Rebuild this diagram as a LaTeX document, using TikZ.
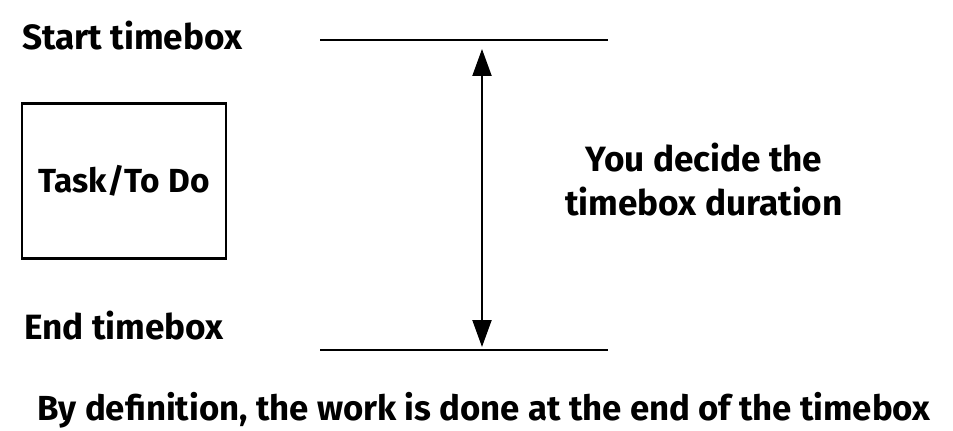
\documentclass[tikz,border=0pt]{standalone}
\usepackage{fontspec}
\setmainfont{Fira Sans}
\usetikzlibrary{arrows.meta,positioning}

\begin{document}
\begin{tikzpicture}[x=0.02cm, y=-0.02cm,
    label/.style={font=\fontsize{20}{25}\selectfont\bfseries, inner sep=0pt, align=center},
    taskbox/.style={draw, line width=1.2pt, minimum width=4.08cm, minimum height=3.1cm,
                    font=\fontsize{19}{23}\selectfont\bfseries},
    mark line/.style={line width=1.2pt}]
\useasboundingbox (0,0) rectangle (953,431);
% Left: labels and task
\node[label, anchor=west] (start) at (22,36) {Start timebox};
\node[taskbox] (task) at (124,181) {Task/To Do};
\node[label, anchor=west] (end) at (24,326) {End timebox};
% Timebox limits
\coordinate (t1) at (320,40);
\coordinate (t2) at (608,40);
\coordinate (b1) at (320,350);
\coordinate (b2) at (608,350);
\draw[mark line] (t1) -- (t2);
\draw[mark line] (b1) -- (b2);
% Duration arrow
\coordinate (atop) at (482,49);
\coordinate (abot) at (482,347);
\draw[line width=1.2pt, {Triangle[length=0.54cm, width=0.38cm]}-{Triangle[length=0.54cm, width=0.38cm]}] (atop) -- (abot);
\node[label] (duration) at (704,180) {You decide the\\timebox duration};
% Bottom note
\node[label, font=\fontsize{19.8}{24}\selectfont\bfseries] (note) at (484,410) {By definition, the work is done at the end of the timebox};
\end{tikzpicture}
\end{document}
